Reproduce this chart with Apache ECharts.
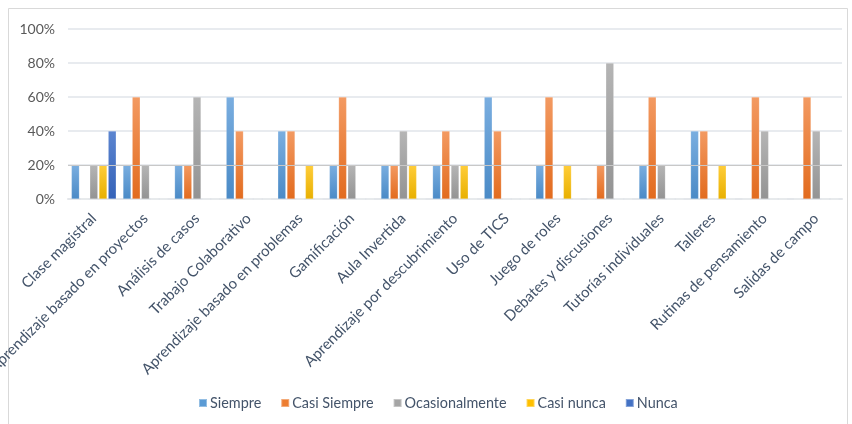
<!DOCTYPE html>
<html>
<head>
<meta charset="utf-8">
<script src="https://cdn.jsdelivr.net/npm/echarts@6/dist/echarts.min.js"></script>
<style>
  html, body { margin: 0; padding: 0; background: #ffffff; }
  #chart { width: 852px; height: 424px; }
</style>
</head>
<body>
<div id="chart"></div>
<script>
// Teaching strategies and how often each is used (percent of respondents)
const categories = [
  'Clase magistral', 'Aprendizaje basado en proyectos', 'Análisis de casos',
  'Trabajo Colaborativo', 'Aprendizaje basado en problemas', 'Gamificación',
  'Aula Invertida', 'Aprendizaje por descubrimiento', 'Uso de TICS',
  'Juego de roles', 'Debates y discusiones', 'Tutorías individuales',
  'Talleres', 'Rutinas de pensamiento', 'Salidas de campo'
];
const seriesNames = ['Siempre', 'Casi Siempre', 'Ocasionalmente', 'Casi nunca', 'Nunca'];
const siempre       = [20, 20, 20, 60, 40, 20, 20, 20, 60, 20, 0, 20, 40, 0, 0];
const casiSiempre   = [0, 60, 20, 40, 40, 60, 20, 40, 40, 60, 20, 60, 40, 60, 60];
const ocasionalmente= [20, 20, 60, 0, 0, 20, 40, 20, 0, 0, 80, 20, 0, 40, 40];
const casiNunca     = [20, 0, 0, 0, 20, 0, 20, 20, 0, 20, 0, 0, 20, 0, 0];
const nunca         = [40, 0, 0, 0, 0, 0, 0, 0, 0, 0, 0, 0, 0, 0, 0];
const yTicks = [0, 20, 40, 60, 80, 100];

const values = [siempre, casiSiempre, ocasionalmente, casiNunca, nunca];
const palette = [
  ['#7aaee0', '#4a8ac6'],
  ['#f39a62', '#e26b1e'],
  ['#b5b5b5', '#939393'],
  ['#ffcd3a', '#e8b000'],
  ['#5c85d0', '#3462b8']
];
const legendColors = ['#5b9bd5', '#ed7d31', '#a5a5a5', '#ffc000', '#4472c4'];

const chart = echarts.init(document.getElementById('chart'), null, { renderer: 'canvas' });

const font = 'Lato, "Open Sans", sans-serif';

chart.setOption({
  backgroundColor: '#ffffff',
  animation: false,
  textStyle: { fontFamily: font },
  graphic: [{
    type: 'rect',
    shape: { x: 8.5, y: 8.5, width: 839, height: 430 },
    style: { fill: 'none', stroke: '#d9d9d9', lineWidth: 1 },
    silent: true
  }],
  grid: {
    left: 68, right: 10, top: 29, bottom: 225,
    containLabel: false,
    outerBoundsMode: 'none'
  },
  legend: {
    data: seriesNames.map((n, i) => ({ name: n, itemStyle: { color: legendColors[i] } })),
    top: 391,
    left: 193,
    itemWidth: 8,
    itemHeight: 8,
    itemGap: 19,
    icon: 'rect',
    textStyle: { fontFamily: font, fontSize: 14.4, color: '#44546a', padding: [0, 0, 0, -2] }
  },
  xAxis: {
    type: 'category',
    data: categories,
    axisTick: { show: false },
    axisLine: { lineStyle: { color: '#e3e6ea', width: 2 } },
    axisLabel: {
      interval: 0,
      rotate: 45,
      margin: 17,
      fontFamily: font,
      fontSize: 15,
      color: '#44546a'
    }
  },
  yAxis: {
    type: 'value',
    min: 0,
    max: 100,
    interval: 20,
    axisLine: { show: false },
    axisTick: { show: false },
    splitLine: { lineStyle: { color: '#e8ebef', width: 2 } },
    axisLabel: {
      margin: 13,
      fontFamily: font,
      fontSize: 14,
      color: '#595959',
      formatter: v => yTicks.includes(v) ? v + '%' : ''
    }
  },
  series: seriesNames.map((name, i) => ({
    name,
    type: 'bar',
    data: values[i],
    barWidth: 8,
    barGap: '15%',
    itemStyle: {
      color: new echarts.graphic.LinearGradient(0, 0, 0, 1, [
        { offset: 0, color: palette[i][0] },
        { offset: 1, color: palette[i][1] }
      ]),
      borderColor: 'rgba(255,255,255,0.35)',
      borderWidth: 0.5
    }
  })).concat([{
    name: 'grid20',
    type: 'line',
    data: [],
    silent: true,
    markLine: {
      symbol: 'none',
      silent: true,
      label: { show: false },
      lineStyle: { color: '#c8c8c8', type: 'solid', width: 1 },
      data: [{ yAxis: 20 }]
    }
  }])
});
</script>
</body>
</html>
